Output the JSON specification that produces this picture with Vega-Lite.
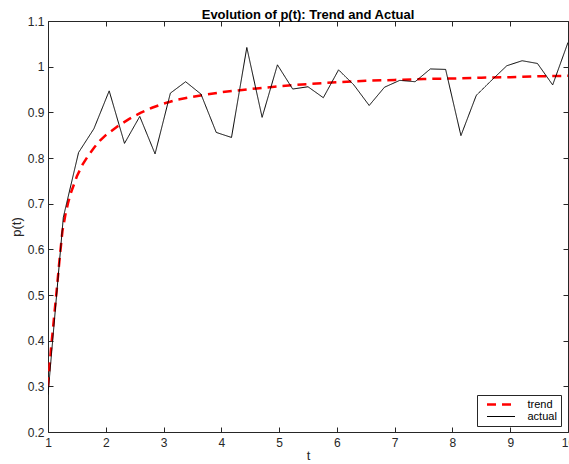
{
  "$schema": "https://vega.github.io/schema/vega-lite/v6.json",
  "width": 520,
  "height": 411,
  "autosize": {"type": "none"},
  "padding": {"left": 48, "top": 21, "right": 1, "bottom": 32},
  "background": "white",
  "config": {
    "font": "Liberation Sans",
    "view": {"stroke": null},
    "axis": {
      "grid": false,
      "domainColor": "#262626",
      "domainWidth": 1,
      "tickColor": "#262626",
      "tickWidth": 1,
      "tickSize": -5,
      "labelColor": "#262626",
      "labelFontSize": 12,
      "labelFont": "Liberation Sans",
      "labelFlush": false,
      "titleColor": "#262626",
      "titleFontSize": 13,
      "titleFontWeight": "normal",
      "titleFont": "Liberation Sans"
    },
    "legend": {
      "orient": "none",
      "legendX": 429,
      "legendY": 374,
      "symbolType": "M-4,0H4",
      "symbolSize": 49,
      "labelFontSize": 11,
      "labelColor": "#000000",
      "fillColor": "white",
      "strokeColor": "#262626",
      "padding": 4,
      "symbolOffset": 14.5,
      "labelOffset": 21,
      "rowPadding": 0
    }
  },
  "title": {
    "text": "Evolution of p(t): Trend and Actual",
    "fontSize": 13,
    "fontWeight": "bold",
    "color": "#000000",
    "font": "Liberation Sans",
    "offset": 3,
    "dy": 10,
    "anchor": "middle",
    "frame": "group"
  },
  "data": {
    "values": [
      {"t": 1.0, "p": 0.300, "series": "trend"},
      {"t": 1.05, "p": 0.380, "series": "trend"},
      {"t": 1.1, "p": 0.445, "series": "trend"},
      {"t": 1.15, "p": 0.510, "series": "trend"},
      {"t": 1.2, "p": 0.578, "series": "trend"},
      {"t": 1.25, "p": 0.640, "series": "trend"},
      {"t": 1.3, "p": 0.675, "series": "trend"},
      {"t": 1.35, "p": 0.703, "series": "trend"},
      {"t": 1.4, "p": 0.725, "series": "trend"},
      {"t": 1.5, "p": 0.760, "series": "trend"},
      {"t": 1.6, "p": 0.786, "series": "trend"},
      {"t": 1.7, "p": 0.806, "series": "trend"},
      {"t": 1.8, "p": 0.823, "series": "trend"},
      {"t": 1.9, "p": 0.838, "series": "trend"},
      {"t": 2.0, "p": 0.850, "series": "trend"},
      {"t": 2.2, "p": 0.869, "series": "trend"},
      {"t": 2.4, "p": 0.885, "series": "trend"},
      {"t": 2.6, "p": 0.899, "series": "trend"},
      {"t": 2.8, "p": 0.910, "series": "trend"},
      {"t": 3.0, "p": 0.919, "series": "trend"},
      {"t": 3.25, "p": 0.928, "series": "trend"},
      {"t": 3.5, "p": 0.934, "series": "trend"},
      {"t": 3.75, "p": 0.939, "series": "trend"},
      {"t": 4.0, "p": 0.944, "series": "trend"},
      {"t": 4.5, "p": 0.951, "series": "trend"},
      {"t": 5.0, "p": 0.957, "series": "trend"},
      {"t": 5.5, "p": 0.962, "series": "trend"},
      {"t": 6.0, "p": 0.966, "series": "trend"},
      {"t": 6.5, "p": 0.969, "series": "trend"},
      {"t": 7.0, "p": 0.971, "series": "trend"},
      {"t": 7.5, "p": 0.973, "series": "trend"},
      {"t": 8.0, "p": 0.974, "series": "trend"},
      {"t": 8.5, "p": 0.976, "series": "trend"},
      {"t": 9.0, "p": 0.977, "series": "trend"},
      {"t": 9.5, "p": 0.979, "series": "trend"},
      {"t": 10.0, "p": 0.980, "series": "trend"},
      {"t": 1.0, "p": 0.282, "series": "actual"},
      {"t": 1.265, "p": 0.670, "series": "actual"},
      {"t": 1.529, "p": 0.812, "series": "actual"},
      {"t": 1.794, "p": 0.864, "series": "actual"},
      {"t": 2.059, "p": 0.947, "series": "actual"},
      {"t": 2.324, "p": 0.832, "series": "actual"},
      {"t": 2.588, "p": 0.891, "series": "actual"},
      {"t": 2.853, "p": 0.809, "series": "actual"},
      {"t": 3.118, "p": 0.942, "series": "actual"},
      {"t": 3.382, "p": 0.967, "series": "actual"},
      {"t": 3.647, "p": 0.940, "series": "actual"},
      {"t": 3.912, "p": 0.856, "series": "actual"},
      {"t": 4.176, "p": 0.845, "series": "actual"},
      {"t": 4.441, "p": 1.042, "series": "actual"},
      {"t": 4.706, "p": 0.889, "series": "actual"},
      {"t": 4.971, "p": 1.004, "series": "actual"},
      {"t": 5.235, "p": 0.951, "series": "actual"},
      {"t": 5.5, "p": 0.956, "series": "actual"},
      {"t": 5.765, "p": 0.932, "series": "actual"},
      {"t": 6.029, "p": 0.993, "series": "actual"},
      {"t": 6.294, "p": 0.960, "series": "actual"},
      {"t": 6.559, "p": 0.915, "series": "actual"},
      {"t": 6.824, "p": 0.955, "series": "actual"},
      {"t": 7.088, "p": 0.970, "series": "actual"},
      {"t": 7.353, "p": 0.967, "series": "actual"},
      {"t": 7.618, "p": 0.995, "series": "actual"},
      {"t": 7.882, "p": 0.994, "series": "actual"},
      {"t": 8.147, "p": 0.849, "series": "actual"},
      {"t": 8.412, "p": 0.937, "series": "actual"},
      {"t": 8.676, "p": 0.970, "series": "actual"},
      {"t": 8.941, "p": 1.002, "series": "actual"},
      {"t": 9.206, "p": 1.013, "series": "actual"},
      {"t": 9.471, "p": 1.007, "series": "actual"},
      {"t": 9.735, "p": 0.960, "series": "actual"},
      {"t": 10.0, "p": 1.053, "series": "actual"}
    ]
  },
  "layer": [
    {
      "mark": {"type": "line", "clip": true},
      "encoding": {
        "x": {
          "field": "t",
          "type": "quantitative",
          "scale": {"domain": [1, 10], "nice": false, "zero": false},
          "axis": {
            "orient": "bottom",
            "values": [1, 2, 3, 4, 5, 6, 7, 8, 9, 10],
            "format": "d",
            "labelPadding": 10,
            "title": "t",
            "titlePadding": 1
          }
        },
        "y": {
          "field": "p",
          "type": "quantitative",
          "scale": {"domain": [0.2, 1.1], "nice": false, "zero": false},
          "axis": {
            "orient": "left",
            "values": [0.2, 0.3, 0.4, 0.5, 0.6, 0.7, 0.8, 0.9, 1.0, 1.1],
            "format": ".1~f",
            "labelPadding": 9,
            "title": "p(t)",
            "titlePadding": 4
          }
        },
        "color": {
          "field": "series",
          "type": "nominal",
          "scale": {"domain": ["trend", "actual"], "range": ["#ff0000", "#000000"]},
          "legend": {"title": null}
        },
        "strokeDash": {
          "field": "series",
          "type": "nominal",
          "scale": {"domain": ["trend", "actual"], "range": [[9, 6], [1, 0]]},
          "legend": {"title": null}
        },
        "strokeWidth": {
          "field": "series",
          "type": "nominal",
          "scale": {"domain": ["trend", "actual"], "range": [2.5, 1]},
          "legend": {"title": null}
        },
        "order": {"field": "t", "type": "quantitative"}
      }
    },
    {
      "mark": {"type": "point", "opacity": 0},
      "encoding": {
        "x": {
          "field": "t",
          "type": "quantitative",
          "axis": {"orient": "top", "values": [1, 2, 3, 4, 5, 6, 7, 8, 9, 10], "labels": false, "title": null}
        },
        "y": {
          "field": "p",
          "type": "quantitative",
          "axis": {"orient": "right", "values": [0.2, 0.3, 0.4, 0.5, 0.6, 0.7, 0.8, 0.9, 1.0, 1.1], "labels": false, "title": null}
        }
      }
    }
  ],
  "resolve": {"axis": {"x": "independent", "y": "independent"}}
}
